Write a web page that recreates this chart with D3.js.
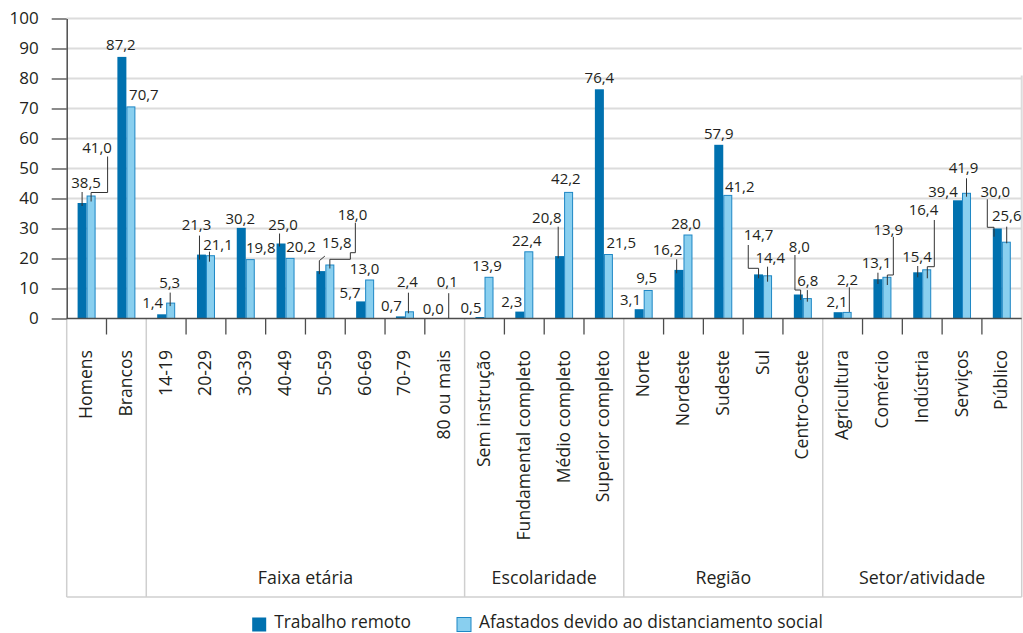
<!DOCTYPE html>
<html lang="pt-BR">
<head>
<meta charset="utf-8">
<script src="https://cdn.jsdelivr.net/npm/d3@7"></script>
<style>
  html, body { margin: 0; padding: 0; background: #fff; }
  svg { display: block; font-family: "Open Sans", "Noto Sans", sans-serif; }
</style>
</head>
<body>
<svg id="chart" width="1023" height="633"></svg>
<script>
// Categories, in display order
const categories = [
  "Homens", "Brancos",
  "14-19", "20-29", "30-39", "40-49", "50-59", "60-69", "70-79", "80 ou mais",
  "Sem instrução", "Fundamental completo", "Médio completo", "Superior completo",
  "Norte", "Nordeste", "Sudeste", "Sul", "Centro-Oeste",
  "Agricultura", "Comércio", "Indústria", "Serviços", "Público"
];

// Series values (%)
const trabalhoRemoto = [
  38.5, 87.2,
  1.4, 21.3, 30.2, 25.0, 15.8, 5.7, 0.7, 0.0,
  0.5, 2.3, 20.8, 76.4,
  3.1, 16.2, 57.9, 14.7, 8.0,
  2.1, 13.1, 15.4, 39.4, 30.0
];
const afastados = [
  41.0, 70.7,
  5.3, 21.1, 19.8, 20.2, 18.0, 13.0, 2.4, 0.1,
  13.9, 22.4, 42.2, 21.5,
  9.5, 28.0, 41.2, 14.4, 6.8,
  2.2, 13.9, 16.4, 41.9, 25.6
];

// Category groups along the bottom
const groupNames = ["", "Faixa etária", "Escolaridade", "Região", "Setor/atividade"];
const groupSizes = [2, 8, 4, 5, 5];

// Axis ticks
const yTicks = [0, 10, 20, 30, 40, 50, 60, 70, 80, 90, 100];

// Legend
const seriesNames = ["Trabalho remoto", "Afastados devido ao distanciamento social"];

// Value-label placement: offset of the label (dx, dy to baseline) from the bar's top centre,
// plus optional leader-line points relative to the same anchor.
const labelLayout = [
  [{dx: 4, dy: -15, l: [[0,-11],[0,3]]}, {dx: 6, dy: -42.5, l: [[16.5,-39],[16.5,-3],[0,-3],[0,6]]}],
  [{dx: -1, dy: -7}, {dx: 13, dy: -6}],
  [{dx: -9, dy: -6}, {dx: -1, dy: -15, l: [[-0.5,-10],[-0.5,3.5]]}],
  [{dx: -5, dy: -24.6, l: [[-2,-19],[-2,5]]}, {dx: 7.5, dy: -5, l: [[-1,-3.5],[-1,6.5]]}],
  [{dx: -1, dy: -4}, {dx: 10.5, dy: -6}],
  [{dx: 2, dy: -13.5, l: [[-1.5,-10],[-1.5,3]]}, {dx: 11, dy: -6}],
  [{dx: 16, dy: -23.5, l: [[-1.5,3],[-1.5,-10.4],[4,-15]]},
   {dx: 22.6, dy: -44.5, l: [[25.5,-41.8],[25.5,-11.8],[20.5,-11.8],[20.5,-5.2],[0,-5.2],[0,4]]}],
  [{dx: -10.5, dy: -3}, {dx: -5, dy: -5.5}],
  [{dx: -9, dy: -5}, {dx: -2, dy: -24, l: [[-1,-18.6],[-1,2]]}],
  [{dx: -7, dy: -5}, {dx: -2, dy: -31, l: [[-0.5,-25],[-0.5,0]]}],
  [{dx: -9, dy: -3.7}, {dx: -2, dy: -6}],
  [{dx: -8, dy: -4.3}, {dx: -2, dy: -5.3}],
  [{dx: -12.7, dy: -33.4, l: [[-1.4,-29.4],[-1.4,2.2]]}, {dx: -2.7, dy: -7.6}],
  [{dx: 0, dy: -6.6}, {dx: 12.8, dy: -5.7}],
  [{dx: -8.7, dy: -4.2}, {dx: -1.5, dy: -6.7}],
  [{dx: -11.5, dy: -15, l: [[-2.3,-10.6],[-2.3,3.4]]}, {dx: -2, dy: -5.2}],
  [{dx: 0, dy: -5.5}, {dx: 12, dy: -3.2}],
  [{dx: 0, dy: -34.4, l: [[-10.3,-29.4],[-10.3,-6.1],[0,-6.1],[0,3.9]]}, {dx: 2.7, dy: -12, l: [[0,-8.6],[0,6.4]]}],
  [{dx: 1, dy: -42.8, l: [[-3.4,-39.5],[-3.4,-4.5],[2.3,-4.5],[2.3,5.5]]}, {dx: 0.4, dy: -12, l: [[0,-8],[0,3.6]]}],
  [{dx: -1, dy: -5}, {dx: 0.4, dy: -27, l: [[2.2,-24.6],[2.2,0]]}],
  [{dx: -1.4, dy: -11, l: [[0,-6.5],[0,4.8]]}, {dx: 1.3, dy: -41.8, l: [[6.4,-40],[6.4,-1.8],[0.4,-1.8],[0.4,8.2]]}],
  [{dx: -0.7, dy: -10.6, l: [[0,-6.3],[0,5]]}, {dx: -3.2, dy: -54.3, l: [[7.6,-49.3],[7.6,-2.6],[0.6,-2.6],[0.6,9]]}],
  [{dx: -14.5, dy: -3.6}, {dx: -3, dy: -19.5, l: [[0,-14.5],[0,3.9]]}],
  [{dx: -2, dy: -31.8, l: [[-10,-29.2],[-10,-1.2],[-3.3,-1.2],[-3.3,8.2]]}, {dx: 0.4, dy: -21, l: [[0.4,-15],[0.4,1.6]]}]
];

// ---- layout ----
const plot = { left: 66.7, right: 1021.7, top: 18.5, bottom: 318.5, boxBottom: 597 };
const barW = 9;
const colors = { remote: "#0071AF", away: "#89CFEF", awayStroke: "#1E87C5", text: "#231F20",
                 grid: "#DCDCDC", axis: "#4D4D4D", frame: "#CFCFCF" };

const svg = d3.select("#chart");

const x = d3.scaleBand().domain(categories).range([plot.left, plot.right]).padding(0);
const y = d3.scaleLinear().domain([0, 100]).range([plot.bottom, plot.top]);
const fmt = v => d3.format(".1f")(v).replace(".", ",");

// Horizontal gridlines
svg.append("g")
  .selectAll("line")
  .data(yTicks.filter(t => t > 0))
  .join("line")
  .attr("x1", plot.left).attr("x2", plot.right)
  .attr("y1", d => y(d)).attr("y2", d => y(d))
  .attr("stroke", colors.grid).attr("stroke-width", 2);

// Right edge of the plot frame
svg.append("line")
  .attr("x1", plot.right).attr("x2", plot.right)
  .attr("y1", y(81)).attr("y2", plot.bottom)
  .attr("stroke", colors.grid).attr("stroke-width", 2);

// Group frame below the axis
const groupStarts = [];
{
  let i = 0;
  groupSizes.forEach(n => { groupStarts.push(i); i += n; });
}
const boundaryXs = groupStarts.map(i => x(categories[i])).concat([plot.right]);
const frame = svg.append("g").attr("stroke", colors.frame).attr("stroke-width", 1.5);
boundaryXs.forEach(bx => {
  frame.append("line").attr("x1", bx).attr("x2", bx)
    .attr("y1", plot.bottom).attr("y2", plot.boxBottom);
});
frame.append("line").attr("x1", plot.left).attr("x2", plot.right)
  .attr("y1", plot.boxBottom).attr("y2", plot.boxBottom);

// Short ticks between categories inside a group
const innerTicks = categories.map((c, i) => i).filter(i => i > 0 && !groupStarts.includes(i));
svg.append("g")
  .selectAll("line")
  .data(innerTicks)
  .join("line")
  .attr("x1", i => x(categories[i])).attr("x2", i => x(categories[i]))
  .attr("y1", plot.bottom).attr("y2", plot.bottom + 16)
  .attr("stroke", colors.axis).attr("stroke-width", 1.3);

// Group titles
svg.append("g")
  .selectAll("text")
  .data(groupNames.map((name, gi) => ({ name, gi })).filter(d => d.name))
  .join("text")
  .attr("x", d => (boundaryXs[d.gi] + boundaryXs[d.gi + 1]) / 2)
  .attr("y", 584)
  .attr("text-anchor", "middle")
  .attr("font-size", 17.8)
  .attr("fill", colors.text)
  .text(d => d.name);

// Category labels, rotated
svg.append("g")
  .selectAll("text")
  .data(categories)
  .join("text")
  .attr("transform", d => `translate(${x(d) + x.bandwidth() / 2 + 5.5},350) rotate(-90)`)
  .attr("text-anchor", "end")
  .attr("font-size", 17.6)
  .attr("fill", colors.text)
  .text(d => d);

// Bars
const rows = categories.map((c, i) => ({ c, i, r: trabalhoRemoto[i], a: afastados[i] }));
const cx = d => x(d.c) + x.bandwidth() / 2;

svg.append("g")
  .selectAll("rect")
  .data(rows)
  .join("rect")
  .attr("x", d => cx(d) - barW)
  .attr("y", d => y(d.r))
  .attr("width", barW)
  .attr("height", d => plot.bottom - y(d.r))
  .attr("fill", colors.remote);

svg.append("g")
  .selectAll("rect")
  .data(rows)
  .join("rect")
  .attr("x", d => cx(d) + 0.5)
  .attr("y", d => y(d.a) + 0.5)
  .attr("width", barW - 1)
  .attr("height", d => Math.max(0, plot.bottom - y(d.a) - 0.5))
  .attr("fill", colors.away)
  .attr("stroke", colors.awayStroke)
  .attr("stroke-width", 1);

// Axes
const yAxis = d3.axisLeft(y).tickValues(yTicks).tickSizeInner(15).tickSizeOuter(0).tickPadding(13);
const gy = svg.append("g").attr("transform", `translate(${plot.left},0)`).call(yAxis);
gy.select(".domain").attr("stroke", colors.axis).attr("stroke-width", 1.5);
gy.selectAll(".tick line").attr("stroke", colors.axis).attr("stroke-width", 1.3);
gy.selectAll(".tick text")
  .attr("font-size", 17)
  .attr("font-family", "'Open Sans', 'Noto Sans', sans-serif")
  .attr("fill", colors.text);

svg.append("line")
  .attr("x1", plot.left).attr("x2", plot.right)
  .attr("y1", plot.bottom).attr("y2", plot.bottom)
  .attr("stroke", colors.axis).attr("stroke-width", 1.5);

// Value labels with leader lines
const labels = [];
rows.forEach(d => {
  const bx = [cx(d) - barW / 2, cx(d) + barW / 2];
  [d.r, d.a].forEach((v, s) => {
    const lay = labelLayout[d.i][s];
    labels.push({ v, ax: bx[s], ay: y(v), lay });
  });
});

const lineGen = d3.line();
svg.append("g")
  .selectAll("path")
  .data(labels.filter(d => d.lay.l))
  .join("path")
  .attr("d", d => lineGen(d.lay.l.map(p => [d.ax + p[0], d.ay + p[1]])))
  .attr("fill", "none")
  .attr("stroke", "#333")
  .attr("stroke-width", 1);

svg.append("g")
  .selectAll("text")
  .data(labels)
  .join("text")
  .attr("x", d => d.ax + d.lay.dx)
  .attr("y", d => d.ay + d.lay.dy)
  .attr("text-anchor", "middle")
  .attr("font-size", 15)
  .attr("fill", colors.text)
  .text(d => fmt(d.v));

// Legend
const legend = svg.append("g");
const legendItems = [
  { name: seriesNames[0], x: 251.7, fill: colors.remote, stroke: "none" },
  { name: seriesNames[1], x: 456.5, fill: colors.away, stroke: colors.awayStroke }
];
legendItems.forEach(it => {
  legend.append("rect")
    .attr("x", it.x + 0.5).attr("y", 617.5)
    .attr("width", 14).attr("height", 14)
    .attr("fill", it.fill).attr("stroke", it.stroke).attr("stroke-width", 1);
  legend.append("text")
    .attr("x", it.x + 22.5).attr("y", 628.3)
    .attr("font-size", 17.4)
    .attr("fill", colors.text)
    .text(it.name);
});
</script>
</body>
</html>
